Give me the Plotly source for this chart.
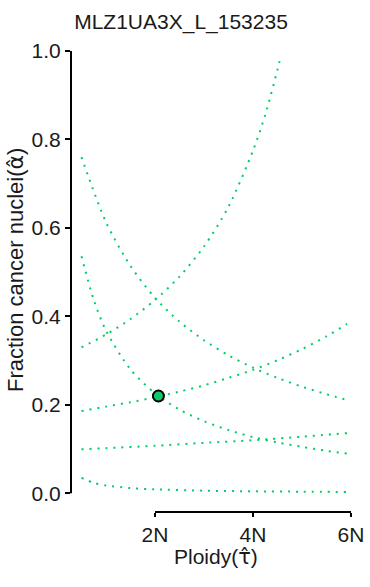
import plotly.graph_objects as go

# ---- data ----
title_text = "MLZ1UA3X_L_153235"

tau_a = [0.5, 1.0, 1.5, 2.0, 2.5, 3.0, 3.5, 4.0, 4.25, 4.5, 4.57]
alpha_a = [0.330, 0.359, 0.394, 0.437, 0.490, 0.558, 0.648, 0.775, 0.856, 0.958, 0.990]

tau_b = [0.5, 1.0, 1.5, 2.0, 2.5, 3.0, 3.5, 4.0, 4.5, 5.0, 5.5, 5.92]
alpha_b = [0.760, 0.613, 0.514, 0.442, 0.388, 0.346, 0.312, 0.284, 0.261, 0.241, 0.224, 0.211]

tau_c = [0.5, 0.75, 1.0, 1.5, 2.0, 2.5, 3.0, 3.5, 4.0, 4.5, 5.0, 5.5, 5.92]
alpha_c = [0.536, 0.437, 0.368, 0.280, 0.226, 0.189, 0.163, 0.143, 0.127, 0.115, 0.105, 0.096, 0.090]

tau_d = [0.5, 1.0, 1.5, 2.0, 2.5, 3.0, 3.5, 4.0, 4.5, 5.0, 5.5, 5.92]
alpha_d = [0.186, 0.196, 0.206, 0.217, 0.230, 0.244, 0.261, 0.279, 0.301, 0.326, 0.355, 0.383]

tau_e = [0.5, 1.0, 2.0, 3.0, 4.0, 5.0, 5.92]
alpha_e = [0.0995, 0.102, 0.1075, 0.114, 0.120, 0.128, 0.136]

tau_f = [0.5, 0.75, 1.0, 1.5, 2.0, 3.0, 4.0, 5.0, 5.92]
alpha_f = [0.035, 0.0235, 0.0177, 0.0118, 0.0089, 0.0059, 0.0045, 0.0036, 0.0030]

call_tau = [2.07]
call_alpha = [0.22]

x_tickvals = [2, 4, 6]
x_ticktext = ["2N", "4N", "6N"]
y_tickvals = [0.0, 0.2, 0.4, 0.6, 0.8, 1.0]

curve_color = "#00CD66"
font_family = "Liberation Sans, Arial, sans-serif"
hat_span = "<span style='font-family:DejaVu Sans'>{}</span>"

fig = go.Figure()
for tx, ay in [(tau_a, alpha_a), (tau_b, alpha_b), (tau_c, alpha_c),
               (tau_d, alpha_d), (tau_e, alpha_e), (tau_f, alpha_f)]:
    fig.add_trace(go.Scatter(
        x=tx, y=ay, mode="lines",
        line=dict(color=curve_color, width=2, dash="2px,6px", shape="spline", smoothing=0.8),
        hoverinfo="skip", showlegend=False))

fig.add_trace(go.Scatter(
    x=call_tau, y=call_alpha, mode="markers",
    marker=dict(size=11, color="#0FC866", line=dict(color="black", width=2)),
    showlegend=False))

fig.update_layout(
    width=370, height=587,
    margin=dict(l=71, r=10, t=45, b=75),
    paper_bgcolor="white", plot_bgcolor="white",
    font=dict(family=font_family, color="black", size=21),
    title=dict(text=title_text, x=181 / 370, xanchor="center",
               y=1 - 22 / 587, yanchor="middle", yref="container",
               font=dict(size=21, color="#1a1a1a")),
    xaxis=dict(range=[0.2857, 6.1837], tickvals=x_tickvals, ticktext=x_ticktext,
               ticks="outside", ticklen=4, tickwidth=2, tickcolor="black",
               showline=False, showgrid=False, zeroline=False, automargin=False,
               tickfont=dict(size=21, color="#1a1a1a")),
    yaxis=dict(range=[-0.0423, 1.0136], tickvals=y_tickvals, tickformat=".1f",
               ticks="outside", ticklen=5, tickwidth=2, tickcolor="black",
               showline=False, showgrid=False, zeroline=False, automargin=False,
               tickfont=dict(size=21, color="#1a1a1a")),
    shapes=[
        dict(type="line", xref="paper", x0=0, x1=0, yref="y", y0=0, y1=1,
             line=dict(color="black", width=2)),
        dict(type="line", xref="x", x0=2, x1=6, yref="paper", y0=0, y1=0,
             line=dict(color="black", width=2)),
    ],
    annotations=[
        dict(text="Ploidy(" + hat_span.format("\u03c4\u0302") + ")", xref="paper", yref="paper",
             x=(216 - 71) / 289, y=-(557 - 512) / 467, xanchor="center", yanchor="middle",
             showarrow=False, font=dict(size=21, color="#1a1a1a")),
        dict(text="Fraction cancer nuclei(" + hat_span.format("\u03b1\u0302") + ")",
             xref="paper", yref="paper",
             x=-(71 - 15) / 289, y=(512 - 270) / 467, xanchor="center", yanchor="middle",
             textangle=-90, showarrow=False, font=dict(size=22, color="#1a1a1a")),
    ],
)

fig.write_html("out.html", config={"displayModeBar": False},
               post_script="document.body.style.margin='0';")
